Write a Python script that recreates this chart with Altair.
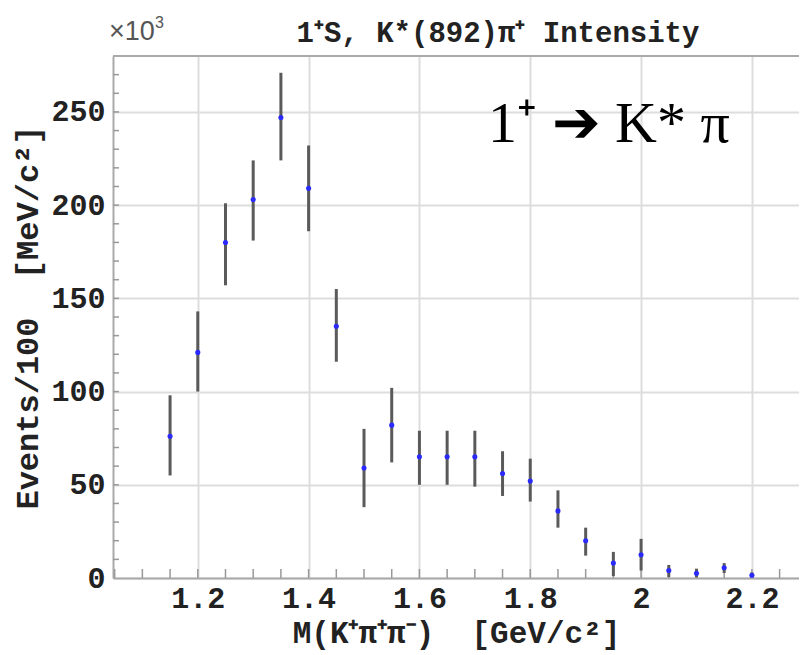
import altair as alt
import pandas as pd
import numpy as np

# ---- data (values in units of 10^3) ----
mass = [1.15, 1.2, 1.25, 1.3, 1.35, 1.4, 1.45, 1.5, 1.55, 1.6, 1.65, 1.7,
        1.75, 1.8, 1.85, 1.9, 1.95, 2.0, 2.05, 2.1, 2.15, 2.2]
events = [76, 121, 180, 203, 247, 209, 135, 59, 82, 65, 65, 65,
          56, 52, 36, 20, 8, 12.5, 4, 2.5, 5.5, 1.5]
err_lo = [55, 100, 157, 181, 224, 186, 116, 38, 62, 50, 50, 49,
          44, 41, 27, 12, 1, 4, 0.5, 0.3, 2.7, 0.3]
err_hi = [98, 143, 201, 224, 271, 232, 155, 80, 102, 79, 79, 79,
          68, 64, 47, 27, 14, 21, 7, 5, 8, 3]

x_ticks = [1.2, 1.4, 1.6, 1.8, 2.0, 2.2]
y_ticks = [0, 50, 100, 150, 200, 250]
x_minor = [round(v, 2) for v in np.arange(1.05, 2.30, 0.05)]
y_minor = list(range(10, 280, 10))

title_text = "1\u207aS, K*(892)\u03c0\u207a Intensity"
xtitle = "M(K\u207a\u03c0\u207a\u03c0\u207b)\u00a0\u00a0[GeV/c\u00b2]"
ytitle = "Events/100\u00a0\u00a0[MeV/c\u00b2]"
annot_text = "1\u207a \u2794 K* \u03c0"
mult_text = "\u00d710"
mult_exp = "3"

W, H = 686, 522
XDOM = [1.047, 2.285]
YDOM = [0, 280]
MONO = "Liberation Mono"

df = pd.DataFrame({"m": mass, "ev": events, "lo": err_lo, "hi": err_hi})

xscale = alt.Scale(domain=XDOM, nice=False, zero=False)
yscale = alt.Scale(domain=YDOM, nice=False, zero=False)

xaxis = alt.Axis(
    values=x_ticks,
    labelExpr="datum.value == 2 ? '2' : format(datum.value, '.1f')",
    title=xtitle,
    grid=True, gridColor="#dddddd", gridWidth=2,
    ticks=False, domainColor="#aaaaaa", domainWidth=2,
    labelFont=MONO, labelFontSize=30, labelFontWeight="bold", labelColor="#222",
    labelPadding=5,
    titleFont=MONO, titleFontSize=31, titleFontWeight="bold", titleColor="#222",
    titlePadding=5,
)
yaxis = alt.Axis(
    values=y_ticks,
    title=ytitle,
    grid=True, gridColor="#dddddd", gridWidth=2,
    ticks=False, domainColor="#aaaaaa", domainWidth=2,
    labelFont=MONO, labelFontSize=30, labelFontWeight="bold", labelColor="#222",
    labelPadding=8,
    titleFont=MONO, titleFontSize=32, titleFontWeight="bold", titleColor="#222",
    titlePadding=6,
)

base = alt.Chart(df)

bars = base.mark_rule(color="#5a5a5a", strokeWidth=3).encode(
    x=alt.X("m:Q", scale=xscale, axis=xaxis),
    y=alt.Y("lo:Q", scale=yscale, axis=yaxis),
    y2="hi:Q",
)
pts = base.mark_point(filled=True, color="#2a2aff", size=26, opacity=1).encode(
    x=alt.X("m:Q", scale=xscale),
    y=alt.Y("ev:Q", scale=yscale),
)

xminor = alt.Chart(pd.DataFrame({"t": x_minor})).mark_rule(color="#999999", strokeWidth=1.5).encode(
    x=alt.X("t:Q", scale=xscale),
    y=alt.value(H), y2=alt.value(H - 9),
)
yminor = alt.Chart(pd.DataFrame({"t": y_minor})).mark_rule(color="#999999", strokeWidth=1.5).encode(
    y=alt.Y("t:Q", scale=yscale),
    x=alt.value(0), x2=alt.value(6),
)
topline = alt.Chart(pd.DataFrame({"a": [0]})).mark_rule(color="#aaaaaa", strokeWidth=2).encode(
    y=alt.value(0), x=alt.value(0), x2=alt.value(W),
)

title = alt.Chart(pd.DataFrame({"s": [title_text]})).mark_text(
    font=MONO, fontSize=29, fontWeight="bold", color="#222", align="center", baseline="alphabetic"
).encode(text="s:N", x=alt.value(385), y=alt.value(-14))

mult = alt.Chart(pd.DataFrame({"s": [mult_text]})).mark_text(
    font="Liberation Sans", fontSize=27, color="#555", align="left", baseline="alphabetic"
).encode(text="s:N", x=alt.value(-4), y=alt.value(-16))
mult3 = alt.Chart(pd.DataFrame({"s": [mult_exp]})).mark_text(
    font="Liberation Sans", fontSize=16, color="#555", align="left", baseline="alphabetic"
).encode(text="s:N", x=alt.value(42), y=alt.value(-28))

annot = alt.Chart(pd.DataFrame({"s": [annot_text]})).mark_text(
    font="Liberation Serif", fontSize=58, color="black", align="left", baseline="alphabetic"
).encode(text="s:N", x=alt.value(375), y=alt.value(86))

chart = alt.layer(topline, xminor, yminor, bars, pts, title, mult, mult3, annot).properties(
    width=W, height=H,
    autosize=alt.AutoSizeParams(type="none"),
    padding={"left": 105, "top": 48, "right": 0, "bottom": 77},
).configure_view(stroke=None).configure(background="white")

chart.save("out.html", embed_options={"renderer": "svg", "actions": False})
